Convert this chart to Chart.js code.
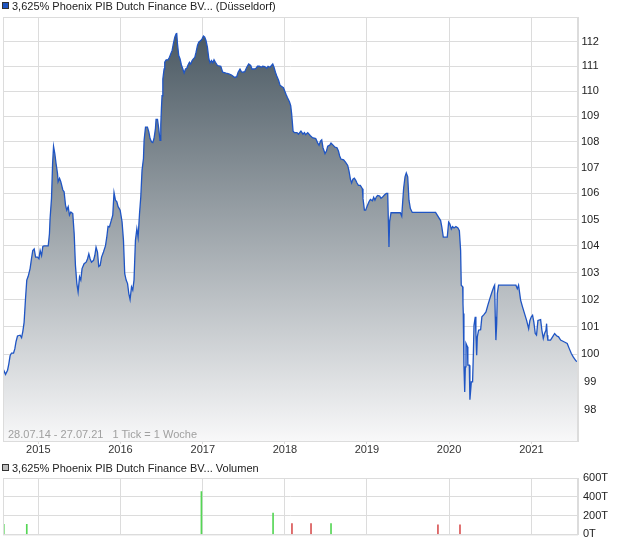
<!DOCTYPE html>
<html>
<head>
<meta charset="utf-8">
<script src="https://cdn.jsdelivr.net/npm/chart.js@4.4.1/dist/chart.umd.min.js"></script>
<style>
  body { margin: 0; background: #fff; font-family: "Liberation Sans", Arial, sans-serif; }
  #wrap { position: relative; width: 620px; height: 546px; overflow: hidden; }
  canvas { position: absolute; left: 0; }
  .legend { position: absolute; left: 2px; font-size: 11px; line-height: 11px; color: #222; white-space: nowrap; }
  .legend .box { position: absolute; left: 0; top: 0; width: 5px; height: 5px; border: 1px solid #333; }
  .legend .txt { position: absolute; left: 10px; top: 0; }
  #range { position: absolute; left: 8px; top: 429px; font-size: 11px; line-height: 11px; color: #a0a0a0; white-space: nowrap; }
</style>
</head>
<body>
<div id="wrap">
  <canvas id="priceChart" width="620" height="460" style="top:0"></canvas>
  <canvas id="volChart" width="620" height="86" style="top:460px"></canvas>
  <div class="legend" style="top:2px"><span class="box" style="background:#1f55c0;top:0"></span><span class="txt" style="top:-1px">3,625% Phoenix PIB Dutch Finance BV... (Düsseldorf)</span></div>
  <div id="range">28.07.14 - 27.07.21&nbsp;&nbsp;&nbsp;1 Tick = 1 Woche</div>
  <div class="legend" style="top:464px"><span class="box" style="background:#bdbdbd;top:0"></span><span class="txt" style="top:-1px">3,625% Phoenix PIB Dutch Finance BV... Volumen</span></div>
</div>
<script>
// Kurs (Wochen seit 28.07.14)
const weeks = [
  0, 1.6, 2.9, 3.7, 4.5, 5.4, 6.7, 7.5, 8.3, 9.2, 10.9, 11.8, 12.6, 13.4, 14.3, 15.1, 16.0, 17.2, 18.1, 18.9,
  19.8, 20.7, 21.9, 22.8, 23.6, 24.5, 25.3, 26.1, 28.7, 29.5, 29.9, 30.8, 31.5, 32.1, 32.9, 33.7, 34.6, 35.0, 35.9, 36.7,
  38.0, 38.8, 39.7, 40.5, 41.4, 42.2, 43.1, 44.3, 45.2, 46.0, 46.9, 47.7, 48.6, 49.4, 50.2, 51.5, 52.8, 53.7, 54.5, 55.3,
  56.2, 57.5, 58.3, 59.1, 60.0, 60.8, 61.7, 62.6, 63.8, 65.1, 65.9, 66.7, 67.6, 68.5, 69.7, 70.5, 71.4, 72.3, 73.1, 74.4,
  75.6, 76.5, 77.3, 78.2, 79.1, 79.9, 80.7, 81.6, 82.4, 83.2, 84.1, 85.0, 85.8, 86.7, 87.5, 88.3, 89.2,
  89.6, 90.5, 91.7, 92.6, 93.4, 94.3, 95.1, 95.9, 96.8, 97.2, 98.1, 98.9, 99.7, 100.2, 100.6, 101.0, 101.5, 102.3, 102.7,
  103.6, 104.8, 105.7, 106.5, 107.4, 108.2, 109.1, 109.9, 110.3, 110.8, 111.6, 112.4, 113.3, 114.2, 115.0, 115.9, 116.7,
  117.5, 118.4, 119.2, 120.1, 120.9, 121.8, 122.6, 123.5, 124.3, 125.6, 126.4, 127.3, 128.1, 128.9, 129.8, 130.7, 131.5,
  132.4, 133.2, 134.0, 134.9, 136.2, 138.3, 139.5, 141.6, 143.4, 145.1, 147.2, 148.4, 149.3, 150.5, 151.4, 152.2, 153.5,
  154.8, 156.0, 157.3, 158.1, 159.4, 160.7, 161.6, 162.8, 164.1, 164.9, 166.2, 167.5, 168.3, 169.6, 170.5, 171.3, 172.1,
  173.0, 173.8, 175.1, 175.9, 177.2, 178.1, 178.9, 179.7, 180.6, 181.9, 182.7, 183.3,
  184.2, 185.1, 186.7, 187.6, 189.2, 190.5, 191.4, 192.2, 193.5, 195.2, 196.5, 198.6, 199.8, 200.7, 201.6, 202.4, 203.2,
  204.5, 205.4, 206.2, 207.5, 208.3, 209.6, 210.8, 212.1, 213.0, 213.8, 214.6, 216.3, 217.6, 218.9, 219.7, 220.6, 221.4,
  222.2, 223.1, 224.0, 224.8, 225.7, 226.9, 228.2, 228.6, 229.5, 230.3, 231.1, 232.4, 233.3, 234.6, 235.4, 236.2, 237.1,
  237.9, 239.2, 240.0, 240.9, 242.2, 243.4, 244.3, 244.7, 245.1, 245.5, 246.4, 252.3, 253.2, 253.6, 254.4, 255.3, 256.1,
  257.0, 257.8, 258.7, 259.9, 274.7, 277.9, 278.7, 279.6, 282.1, 283.0, 283.8, 284.7, 285.5, 286.4, 287.6, 288.9, 289.8,
  290.6, 291.0, 291.9, 292.1, 292.3, 292.7, 293.2, 293.6, 294.0, 294.9, 295.2, 296.1, 296.5, 297.4, 298.2, 298.7, 299.1,
  299.9, 300.3, 300.8, 301.2, 302.0, 303.3, 304.1, 305.4, 306.7, 307.9, 309.2, 310.5, 311.7, 312.2, 312.6, 313.0, 313.5,
  313.9, 314.7, 325.7, 326.6, 327.4, 328.7, 329.9, 331.2, 332.5, 333.8, 334.6, 335.5, 336.3, 337.1, 338.0, 338.8, 339.7,
  341.4, 342.2, 343.1, 343.9, 344.8, 345.2, 345.6, 346.0, 347.7, 349.0, 350.3, 351.5, 352.8, 354.1, 356.2, 358.3, 359.6,
  360.9, 362.1, 363.8, 365.1
];
const prices = [
  99.48, 99.27, 99.42, 99.65, 99.94, 100.04, 100.04, 100.19, 100.46, 100.66, 100.69, 100.6, 100.83, 101.16, 102.04, 102.72, 102.86, 103.15, 103.52, 103.83,
  103.89, 103.58, 103.58, 103.52, 103.83, 103.64, 103.98, 104.0, 104.0, 104.46, 105.04, 105.81, 107.15, 107.82, 107.54, 107.15, 106.77, 106.45, 106.58, 106.45,
  106.13, 106.06, 105.55, 105.36, 105.49, 105.17, 105.29, 105.23, 104.46, 103.27, 102.59, 102.28, 102.84, 102.72, 103.15, 103.33, 103.39, 103.52, 103.7, 103.52,
  103.39, 103.46, 103.64, 103.95, 103.77, 103.23, 103.27, 103.58, 103.77, 104.01, 104.33, 104.74, 104.72, 104.91, 105.17, 106.03, 105.74, 105.68, 105.49, 105.36,
  104.91, 104.21, 102.96, 102.72, 102.59, 102.22, 102.0, 102.47, 102.35, 102.72, 104.21, 104.65, 104.33, 105.23, 105.87, 106.9, 107.35,
  108.06, 108.58, 108.58, 108.39, 108.13, 108.0, 107.97, 108.13, 108.52, 108.88, 108.88, 108.52, 108.06, 108.65, 109.3, 109.82, 110.49, 110.89, 111.16,
  111.26, 111.26, 111.36, 111.5, 111.64, 111.91, 112.18, 112.31, 112.35, 111.91, 111.43, 111.3, 111.05, 110.89, 110.73, 110.89, 110.92,
  111.05, 111.16, 111.09, 111.23, 111.3, 111.36, 111.57, 111.84, 111.97, 112.04, 112.11, 112.22, 112.18, 112.04, 111.77, 111.3, 111.14,
  111.23, 111.14, 111.26, 111.16, 111.03, 111.0, 110.76, 110.72, 110.69, 110.65, 110.55, 110.58, 110.76, 110.89, 110.78, 110.76, 110.78,
  110.96, 111.09, 111.03, 110.89, 110.89, 110.92, 111.0, 111.0, 110.96, 111.0, 110.99, 110.92, 111.0, 110.96, 111.03, 111.09, 110.96,
  110.76, 110.62, 110.42, 110.24, 110.18, 110.14, 110.01, 109.88, 109.75, 109.58, 109.43, 109.1,
  108.42, 108.36, 108.36, 108.3, 108.42, 108.3, 108.36, 108.28, 108.36, 108.24, 108.16, 108.13, 107.96, 107.87, 108.03, 108.08, 107.77,
  107.54, 107.64, 107.83, 107.87, 107.95, 107.87, 107.79, 107.77, 107.64, 107.45, 107.33, 107.3, 107.2, 107.08, 106.87, 106.55, 106.4,
  106.55, 106.59, 106.5, 106.4, 106.31, 106.31, 106.18, 105.81, 105.36, 105.36, 105.49, 105.68, 105.77, 105.72, 105.85, 105.74, 105.87,
  105.92, 105.9, 105.81, 105.85, 105.94, 106.0, 106.0, 104.97, 103.96, 104.91, 105.26, 105.26, 105.13, 105.49, 106.19, 106.64, 106.79,
  106.64, 105.74, 105.42, 105.27, 105.27, 104.96, 104.7, 104.33, 104.33, 104.9, 104.83, 104.64, 104.73, 104.68, 104.73, 104.68, 104.58,
  103.83, 102.53, 102.47, 101.85, 101.48, 99.6, 98.64, 99.54, 100.39, 100.27, 99.6, 99.6, 98.36, 99.0, 99.0, 100.02, 101.05,
  101.36, 100.75, 99.96, 100.63, 100.87, 100.89, 101.36, 101.44, 101.54, 101.79, 102.04, 102.28, 102.47, 102.53, 101.36, 100.51, 101.11,
  102.22, 102.53, 102.53, 102.4, 102.53, 101.98, 101.73, 101.48, 101.23, 100.93, 101.23, 101.36, 101.42, 101.17, 100.75, 100.69, 101.23,
  101.26, 100.87, 100.57, 100.75, 100.87, 101.11, 100.69, 100.51, 100.51, 100.63, 100.75, 100.67, 100.63, 100.51, 100.45, 100.39, 100.2,
  100.02, 99.9, 99.76, 99.72
];

// Achsen
const yearTicks = [22.43, 74.57, 126.86, 179, 231.14, 283.29, 335.57];
const yearLabels = ['2015', '2016', '2017', '2018', '2019', '2020', '2021'];
const priceTicks = [98, 99, 100, 101, 102, 103, 104, 105, 106, 107, 108, 109, 110, 111, 112];

// Volumen (Tausend)
const volWeeks = [0.5, 15.1, 126.0, 171.5, 183.5, 195.6, 208.3, 276.2, 290.2];
const volValues = [106, 106, 455, 228, 114, 114, 114, 103, 103];
const volUp = [true, true, true, true, false, false, true, false, false];
const volTicks = [0, 200, 400, 600];

Chart.defaults.font.family = '"Liberation Sans", Arial, sans-serif';
Chart.defaults.font.size = 11;

const GRID = '#dcdcdc';

// Rahmen um die Zeichenfläche
const framePlugin = {
  id: 'frame',
  afterDatasetsDraw(chart) {
    const { ctx, chartArea: a } = chart;
    ctx.save();
    ctx.strokeStyle = GRID;
    ctx.lineWidth = 1;
    ctx.strokeRect(a.left + 0.5, a.top + 0.5, a.right - a.left - 1, a.bottom - a.top);
    ctx.restore();
  }
};

new Chart(document.getElementById('priceChart'), {
  type: 'line',
  data: {
    datasets: [{
      data: weeks.map((w, i) => ({ x: w, y: prices[i] })),
      borderColor: '#1f55c4',
      borderWidth: 1.3,
      pointRadius: 0,
      tension: 0,
      fill: 'start',
      backgroundColor: (c) => {
        const a = c.chart.chartArea;
        if (!a) return 'rgba(0,0,0,0)';
        const g = c.chart.ctx.createLinearGradient(0, a.top, 0, a.bottom);
        g.addColorStop(0, '#44535d');
        g.addColorStop(1, '#f8f8f9');
        return g;
      }
    }]
  },
  options: {
    responsive: false,
    animation: false,
    devicePixelRatio: 1,
    layout: { padding: { left: 3, top: 17, right: 0, bottom: 0 } },
    plugins: { legend: { display: false }, tooltip: { enabled: false } },
    scales: {
      x: {
        type: 'linear',
        min: 0,
        max: 365.14,
        afterBuildTicks: s => { s.ticks = yearTicks.map(v => ({ value: v })); },
        afterFit: s => { s.height = 19; },
        ticks: { callback: (v, i) => yearLabels[i], color: '#333', padding: -1, maxRotation: 0, autoSkip: false },
        grid: { color: GRID, tickLength: 3 },
        border: { color: GRID }
      },
      y: {
        type: 'logarithmic',
        position: 'right',
        min: 96.9,
        max: 113,
        afterBuildTicks: s => { s.ticks = priceTicks.map(v => ({ value: v })); },
        afterFit: s => { s.width = 42; },
        ticks: { callback: v => String(v), crossAlign: 'center', padding: 3, color: '#222', autoSkip: false },
        grid: { color: GRID, drawTicks: false },
        border: { color: GRID }
      }
    }
  },
  plugins: [framePlugin]
});

new Chart(document.getElementById('volChart'), {
  type: 'bar',
  data: {
    datasets: [{
      data: volWeeks.map((w, i) => ({ x: w, y: volValues[i] })),
      backgroundColor: volUp.map(u => u ? '#55d655' : '#d95555'),
      barThickness: 1
    }]
  },
  options: {
    responsive: false,
    animation: false,
    devicePixelRatio: 1,
    layout: { padding: { left: 3, top: 18, right: 0, bottom: 0 } },
    plugins: { legend: { display: false }, tooltip: { enabled: false } },
    scales: {
      x: {
        type: 'linear',
        min: 0,
        max: 365.14,
        offset: false,
        afterBuildTicks: s => { s.ticks = yearTicks.map(v => ({ value: v })); },
        afterFit: s => { s.height = 10; },
        ticks: { display: false },
        grid: { color: GRID, drawTicks: false, offset: false },
        border: { color: GRID }
      },
      y: {
        position: 'right',
        min: 0,
        max: 600,
        afterBuildTicks: s => { s.ticks = volTicks.map(v => ({ value: v })); },
        afterFit: s => { s.width = 42; },
        ticks: { callback: v => v + 'T', crossAlign: 'near', padding: 5, color: '#222' },
        grid: { color: GRID, drawTicks: false },
        border: { color: GRID }
      }
    }
  },
  plugins: [framePlugin]
});
</script>
</body>
</html>
